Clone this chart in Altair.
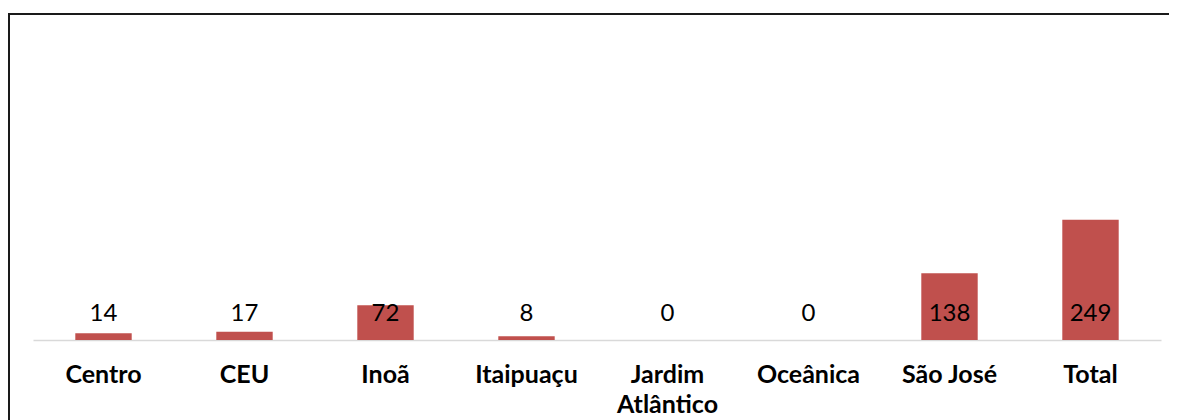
import altair as alt
import pandas as pd

categories = ["Centro", "CEU", "Inoã", "Itaipuaçu", "Jardim Atlântico", "Oceânica", "São José", "Total"]
values = [14, 17, 72, 8, 0, 0, 138, 249]

df = pd.DataFrame({"bairro": categories, "valor": values})

PLOT_W = 1128
PLOT_H = 145
PAD = {"left": 25, "top": 187, "right": 8, "bottom": 90}

x_enc = alt.X(
    "bairro:N",
    sort=categories,
    scale=alt.Scale(paddingInner=0.6, paddingOuter=0.3),
    axis=alt.Axis(
        title=None,
        labelAngle=0,
        ticks=False,
        domainColor="#d9d9d9",
        domainWidth=1.5,
        labelFont="Lato",
        labelFontSize=25,
        labelFontWeight="bold",
        labelColor="#000000",
        labelPadding=22,
        labelLineHeight=30,
        labelExpr="datum.label == 'Jardim Atlântico' ? ['Jardim', 'Atlântico'] : datum.label",
    ),
)

base = alt.Chart(df)

bars = base.mark_bar(color="#C0504D").encode(
    x=x_enc,
    y=alt.Y("valor:Q", scale=alt.Scale(domain=[0, 300], nice=False), axis=None),
)

labels = base.mark_text(
    font="Lato", fontSize=24, color="#000000", baseline="middle", align="center"
).encode(
    x=alt.X("bairro:N", sort=categories),
    y=alt.value(119),
    text=alt.Text("valor:Q"),
)

frame_data = alt.Data(values=[{"k": 1}])
top_line = alt.Chart(frame_data).mark_rule(color="#1a1a1a", strokeWidth=2).encode(
    x=alt.value(-25), x2=alt.value(PLOT_W + PAD["right"]), y=alt.value(-181)
)
left_line = alt.Chart(frame_data).mark_rule(color="#1a1a1a", strokeWidth=2).encode(
    x=alt.value(-24), y=alt.value(-182), y2=alt.value(PLOT_H + PAD["bottom"])
)

chart = (
    alt.layer(bars, labels, top_line, left_line)
    .properties(
        width=PLOT_W,
        height=PLOT_H,
        autosize=alt.AutoSizeParams(type="none"),
        padding=PAD,
        background="#ffffff",
    )
    .configure_view(stroke=None)
)

chart.save("out.html", embed_options={"renderer": "svg", "actions": False})
